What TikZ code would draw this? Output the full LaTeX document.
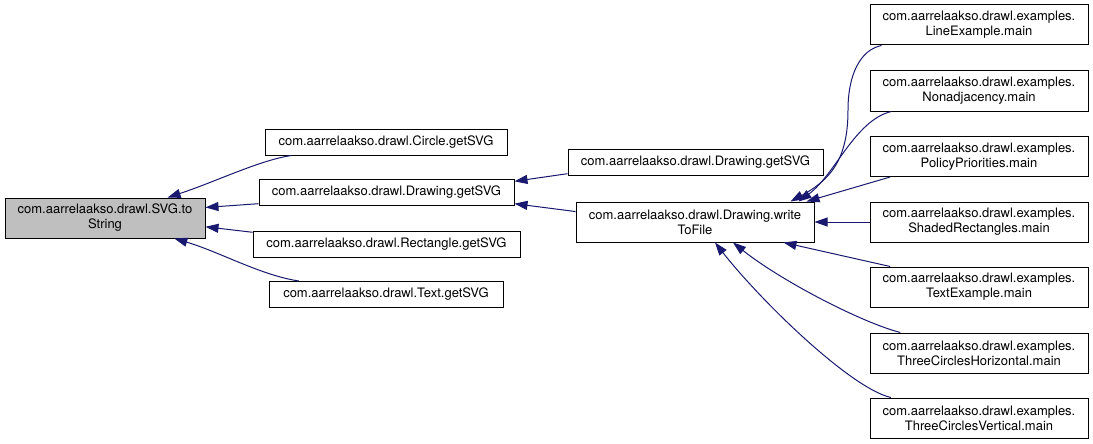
\documentclass[tikz,border=0pt]{standalone}
\usepackage{fontspec}
\setmainfont{TeX Gyre Heros}
\usetikzlibrary{arrows.meta, calc}

\definecolor{edgeblue}{RGB}{25,25,112}
\definecolor{hlgray}{RGB}{191,191,191}

\begin{document}
\begin{tikzpicture}[
    x=1pt, y=-1pt,
    fn/.style={draw, rectangle, line width=1pt, inner sep=0pt, minimum height=26pt, align=center, font=\fontsize{13}{15}\selectfont},
    fntwo/.style={fn, minimum height=40pt},
    fnhl/.style={fntwo, fill=hlgray},
    example/.style={fntwo, minimum width=218pt},
    call/.style={draw=edgeblue, line width=1pt, -{Triangle[length=13pt, width=9pt]}}
]
\useasboundingbox (0,0) rectangle (1093,444);

% Nodes
\node[fnhl, minimum width=200pt] (SVG_toString) at (105, 218) {com.aarrelaakso.drawl.SVG.to\\String};
\node[fn, minimum width=242pt] (Circle_getSVG) at (386, 142) {com.aarrelaakso.drawl.Circle.getSVG};
\node[fn, minimum width=255pt] (Drawing_getSVG) at (386.5, 192.5) {com.aarrelaakso.drawl.Drawing.getSVG};
\node[fn, minimum width=267pt] (Rectangle_getSVG) at (386.5, 244) {com.aarrelaakso.drawl.Rectangle.getSVG};
\node[fn, minimum width=234pt] (Text_getSVG) at (386, 294.5) {com.aarrelaakso.drawl.Text.getSVG};
\node[fn, minimum width=255pt] (Drawing_getSVG2) at (695.5, 162.5) {com.aarrelaakso.drawl.Drawing.getSVG};
\node[fntwo, minimum width=238pt] (Drawing_writeToFile) at (695, 222) {com.aarrelaakso.drawl.Drawing.write\\ToFile};

% Examples
\node[example] (Ex_Line) at (979, 25) {com.aarrelaakso.drawl.examples.\\LineExample.main};
\node[example] (Ex_Nonadj) at (979, 91) {com.aarrelaakso.drawl.examples.\\Nonadjacency.main};
\node[example] (Ex_Policy) at (979, 156.5) {com.aarrelaakso.drawl.examples.\\PolicyPriorities.main};
\node[example] (Ex_Shaded) at (979, 222) {com.aarrelaakso.drawl.examples.\\ShadedRectangles.main};
\node[example] (Ex_Text) at (979, 287) {com.aarrelaakso.drawl.examples.\\TextExample.main};
\node[example] (Ex_ThreeH) at (979, 353) {com.aarrelaakso.drawl.examples.\\ThreeCirclesHorizontal.main};
\node[example] (Ex_ThreeV) at (979, 418) {com.aarrelaakso.drawl.examples.\\ThreeCirclesVertical.main};

% Calls into SVG.toString
\draw[call] (Circle_getSVG) .. controls (260, 160) and (215, 182) .. (SVG_toString);
\draw[call] (Drawing_getSVG.185) -- (SVG_toString.6);
\draw[call] (Rectangle_getSVG.175) -- (SVG_toString.-5);
\draw[call] (Text_getSVG) .. controls (260, 275) and (220, 252) .. (SVG_toString);

% Calls into Drawing.getSVG
\draw[call] (Drawing_getSVG2.185) -- (Drawing_getSVG.5);
\draw[call] (Drawing_writeToFile.175) -- (Drawing_getSVG.-5);

% Calls into Drawing.writeToFile
\draw[call] (Ex_Line) .. controls (860, 50) and (848, 75) .. (848, 110)
    .. controls (848, 160) and (830, 180) .. ([xshift=-24pt]Drawing_writeToFile.north east);
\draw[call] (Ex_Nonadj) .. controls (855, 120) and (835, 175) .. ([xshift=-16pt]Drawing_writeToFile.north east);
\draw[call] (Ex_Policy.193) -- ([xshift=-8pt]Drawing_writeToFile.north east);
\draw[call] (Ex_Shaded) -- (Drawing_writeToFile);
\draw[call] (Ex_Text.167) -- ([xshift=-31pt]Drawing_writeToFile.south east);
\draw[call] (Ex_ThreeH) .. controls (860, 322) and (780, 280) .. ([xshift=38pt]Drawing_writeToFile.south);
\draw[call] (Ex_ThreeV) .. controls (850, 388) and (760, 300) .. ([xshift=20pt]Drawing_writeToFile.south);

\end{tikzpicture}
\end{document}
